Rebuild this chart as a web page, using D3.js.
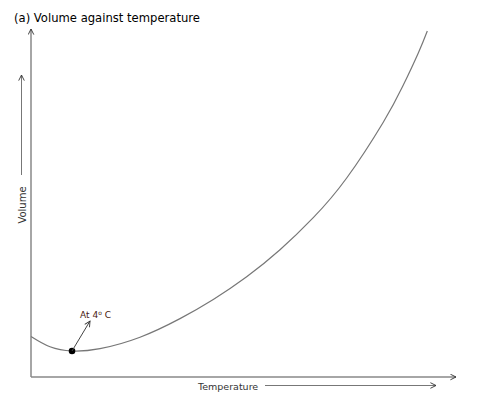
<!DOCTYPE html>
<html>
<head>
<meta charset="utf-8">
<script src="https://cdn.jsdelivr.net/npm/d3@7"></script>
<style>
  body { margin: 0; background: #fff; }
  svg { display: block; font-family: "DejaVu Sans", Verdana, sans-serif; }
</style>
</head>
<body>
<div id="chart"></div>
<script>
// curve (arbitrary units, 0..100 on both axes)
const temperature = [0, 4.47, 9.65, 16.24, 25.65, 35.06, 42.89, 50.75, 58.59, 66.42, 74.28, 82.89, 87.46, 91.13, 93.25];
const volume      = [11.64, 8.68, 7.47, 8.16, 11.44, 16.78, 22.27, 28.79, 36.55, 45.78, 57.18, 73.22, 83.53, 93.13, 99.45];
const minPoint = {t: 9.65, v: 7.47};
const titleText = "(a) Volume against temperature";
const xLabel = "Temperature";
const yLabel = "Volume";
const noteText = "At 4";

const width = 500, height = 394;
const margin = {top: 29, right: 44, bottom: 17, left: 31};

const svg = d3.select('#chart').append('svg')
  .attr('width', width)
  .attr('height', height);

const x = d3.scaleLinear().domain([0, 100]).range([margin.left, width - margin.right]);
const y = d3.scaleLinear().domain([0, 100]).range([height - margin.bottom, margin.top]);

const defs = svg.append('defs');
defs.append('marker')
  .attr('id', 'arr')
  .attr('viewBox', '0 0 10 10')
  .attr('refX', 9).attr('refY', 5)
  .attr('markerWidth', 7).attr('markerHeight', 7)
  .attr('markerUnits', 'userSpaceOnUse')
  .attr('orient', 'auto')
  .append('path')
  .attr('d', 'M1,1 L9,5 L1,9')
  .attr('fill', 'none')
  .attr('stroke', '#333')
  .attr('stroke-width', 1.3);

// axes (plain lines with arrow heads)
svg.append('line')
  .attr('x1', x(0)).attr('y1', y(0))
  .attr('x2', x(0)).attr('y2', y(100))
  .attr('stroke', '#888').attr('stroke-width', 1.5)
  .attr('marker-end', 'url(#arr)');
svg.append('line')
  .attr('x1', x(0)).attr('y1', y(0))
  .attr('x2', x(100)).attr('y2', y(0))
  .attr('stroke', '#888').attr('stroke-width', 1.5)
  .attr('marker-end', 'url(#arr)');

// title
svg.append('text')
  .attr('x', 14).attr('y', 22)
  .attr('font-size', 11.6)
  .attr('font-family', 'Verdana, "DejaVu Sans", sans-serif')
  .attr('fill', '#000')
  .text(titleText);

// x label + arrow
svg.append('text')
  .attr('x', 198).attr('y', 390)
  .attr('font-size', 9.5)
  .attr('fill', '#333')
  .text(xLabel);
svg.append('line')
  .attr('x1', 265).attr('y1', 385.5)
  .attr('x2', 436).attr('y2', 385.5)
  .attr('stroke', '#777').attr('stroke-width', 1)
  .attr('marker-end', 'url(#arr)');

// y label + arrow
svg.append('text')
  .attr('transform', 'translate(26,205) rotate(-90)')
  .attr('text-anchor', 'middle')
  .attr('font-size', 10)
  .attr('fill', '#333')
  .text(yLabel);
svg.append('line')
  .attr('x1', 21.5).attr('y1', 175)
  .attr('x2', 21.5).attr('y2', 75)
  .attr('stroke', '#777').attr('stroke-width', 1)
  .attr('marker-end', 'url(#arr)');

// curve
const line = d3.line()
  .x((d, i) => x(temperature[i]))
  .y(d => y(d))
  .curve(d3.curveNatural);
svg.append('path')
  .datum(volume)
  .attr('d', line)
  .attr('fill', 'none')
  .attr('stroke', '#777')
  .attr('stroke-width', 1.2);

// minimum point + annotation
svg.append('circle')
  .attr('cx', x(minPoint.t)).attr('cy', y(minPoint.v))
  .attr('r', 3.3)
  .attr('fill', '#000');
svg.append('line')
  .attr('x1', x(minPoint.t)).attr('y1', y(minPoint.v))
  .attr('x2', x(minPoint.t) + 18).attr('y2', y(minPoint.v) - 30)
  .attr('stroke', '#444').attr('stroke-width', 1)
  .attr('marker-end', 'url(#arr)');
const note = svg.append('text')
  .attr('x', 80).attr('y', 318)
  .attr('font-size', 9)
  .attr('fill', '#4a2010');
note.append('tspan').text(noteText);
note.append('tspan').attr('font-size', 6).attr('dy', -3).text('o');
note.append('tspan').attr('dy', 3).text(' C');
</script>
</body>
</html>
